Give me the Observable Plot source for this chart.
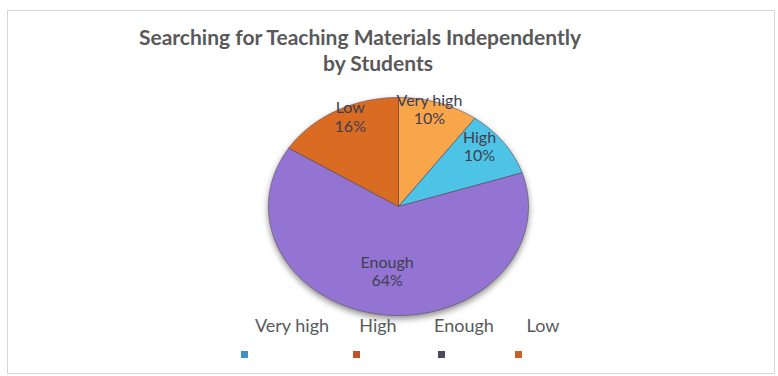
<!DOCTYPE html>
<html>
<head>
<meta charset="utf-8">
<script src="https://cdn.jsdelivr.net/npm/d3@7"></script>
<script src="https://cdn.jsdelivr.net/npm/@observablehq/plot@0.6"></script>
<style>
  html, body { margin: 0; padding: 0; background: #fff; }
  #wrap { position: relative; width: 778px; height: 376px; overflow: hidden; font-family: Lato, "Open Sans", sans-serif; }
  #frame { position: absolute; left: 7px; top: 10px; width: 768px; height: 364px; border: 1px solid #d6d6d6; box-sizing: border-box; }
  #chart { position: absolute; left: 0; top: 0; }
  .title { position: absolute; font-weight: bold; font-size: 21px; color: #595959; white-space: nowrap; transform: translateX(-50%); }
  .leg { position: absolute; font-size: 18px; color: #595959; white-space: nowrap; transform: translateX(-50%); }
  .mk { position: absolute; width: 7px; height: 7px; }
  #chart g[aria-label="line"] { filter: drop-shadow(0px 3px 3px rgba(0,0,0,0.45)); }
</style>
</head>
<body>
<div id="wrap">
  <div id="frame"></div>
  <div id="chart"></div>
</div>
<script>
// ---- data ----
const categories = ["Very high", "High", "Enough", "Low"];
const percents = [10, 10, 64, 16];
const colors = ["#F9A64A", "#4DC3E6", "#9474D3", "#D96B22"];
const legendMarkerColors = ["#3F8FC7", "#C0522A", "#4a4a5a", "#C4622C"];
const titleLines = ["Searching for Teaching Materials Independently", "by Students"];

// ---- build slices from data ----
const pie = d3.pie().sort(null).value(d => d)(percents);
const pts = [];
const labels = [];
pie.forEach((p, i) => {
  const cat = categories[i];
  pts.push({cat, x: 0, y: 0});
  const n = Math.max(8, Math.ceil((p.endAngle - p.startAngle) / 0.01));
  for (let k = 0; k <= n; k++) {
    const a = p.startAngle + (p.endAngle - p.startAngle) * k / n;
    pts.push({cat, x: Math.sin(a), y: Math.cos(a)});
  }
  pts.push({cat, x: 0, y: 0});
  const mid = (p.startAngle + p.endAngle) / 2;
  const big = percents[i] > 50;
  const rx = big ? 0.7 : 0.77, ry = big ? 0.6 : 0.94;
  labels.push({cat, x: rx * Math.sin(mid), y: ry * Math.cos(mid), text: cat + "\n" + percents[i] + "%"});
});

const chart = Plot.plot({
  width: 778,
  height: 376,
  margin: 0,
  x: {domain: [-1, 1], range: [268, 528], axis: null},
  y: {domain: [-1, 1], range: [315, 97], axis: null},
  color: {domain: categories, range: colors},
  marks: [
    Plot.line(pts, {x: "x", y: "y", z: "cat", fill: "cat", stroke: "#5a4a5a", strokeWidth: 1, strokeOpacity: 0.6, curve: "linear"}),
    Plot.text(labels, {x: "x", y: "y", text: "text", fontSize: 16, fill: "#3f3f4f", lineHeight: 1.15, fontFamily: "Lato, 'Open Sans', sans-serif"})
  ]
});
document.getElementById("chart").appendChild(chart);

// ---- title (HTML, outside the SVG scales) ----
const wrap = document.getElementById("wrap");
const titlePos = [[360, 24], [378, 50]];
titleLines.forEach((t, i) => {
  const el = document.createElement("div");
  el.className = "title";
  el.textContent = t;
  el.style.left = titlePos[i][0] + "px";
  el.style.top = titlePos[i][1] + "px";
  wrap.appendChild(el);
});

// ---- legend ----
const legX = [292, 378, 464, 543];
const mkX = [241, 353, 438, 515];
categories.forEach((c, i) => {
  const el = document.createElement("div");
  el.className = "leg";
  el.textContent = c;
  el.style.left = legX[i] + "px";
  el.style.top = "314px";
  wrap.appendChild(el);
  const m = document.createElement("div");
  m.className = "mk";
  m.style.left = mkX[i] + "px";
  m.style.top = "351px";
  m.style.background = legendMarkerColors[i];
  wrap.appendChild(m);
});
</script>
</body>
</html>
